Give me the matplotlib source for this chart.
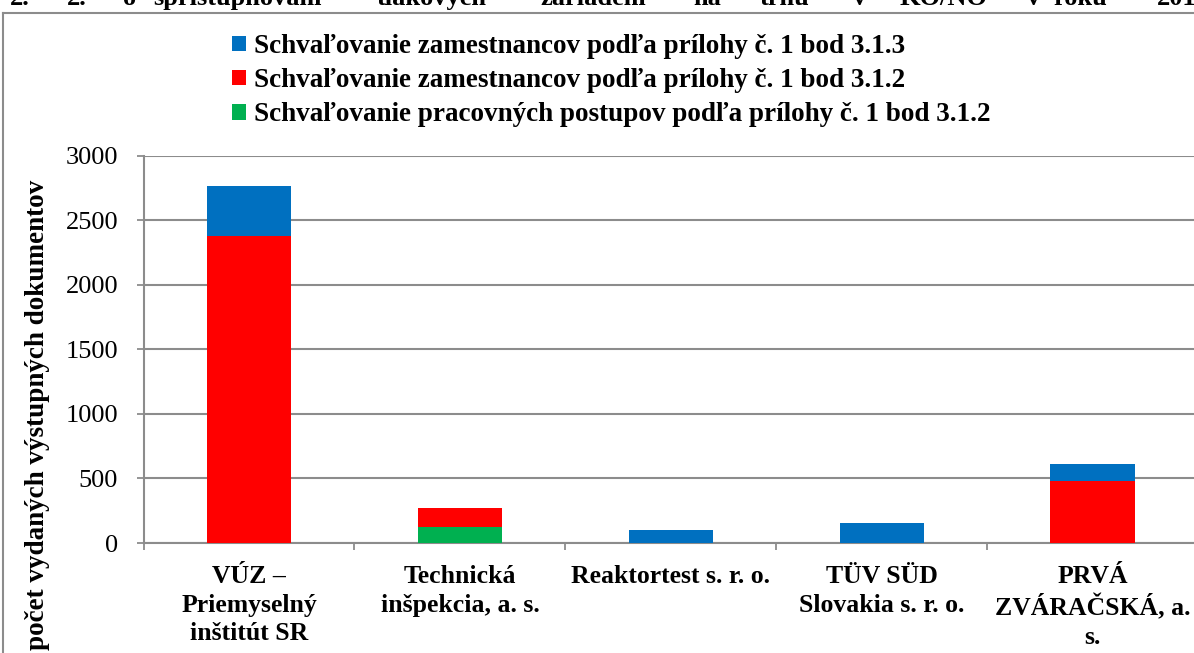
import matplotlib
matplotlib.use('Agg')
import matplotlib.pyplot as plt
import numpy as np
from matplotlib.lines import Line2D

plt.rcParams['font.family'] = ['Liberation Serif', 'DejaVu Serif']

# data
categories = ['VÚZ –\nPriemyselný\ninštitút SR',
              'Technická\ninšpekcia, a. s.',
              'Reaktortest s. r. o.',
              'TÜV SÜD\nSlovakia s. r. o.',
              'PRVÁ\nZVÁRAČSKÁ, a.\ns.']
postupy_312 = [0, 125, 0, 0, 0]
zamestnanci_312 = [2380, 145, 0, 0, 484]
zamestnanci_313 = [385, 0, 100, 155, 126]

labels = ['Schvaľovanie zamestnancov podľa prílohy č. 1 bod 3.1.3',
          'Schvaľovanie zamestnancov podľa prílohy č. 1 bod 3.1.2',
          'Schvaľovanie pracovných postupov podľa prílohy č. 1 bod 3.1.2']
colors = ['#0070C0', '#FF0000', '#00B050']

# clipped caption above the chart (only its lower part is visible)
title_words = ['2.', '2.', 'o', 'sprístupňovaní', 'tlakových', 'zariadení', 'na',
               'trhu', 'v', 'KO/NO', 'v', 'roku', '2014']
title_x = [10, 67, 123, 153, 377, 540, 693, 760, 853, 900, 1027, 1053, 1157]

W, H = 1194, 653
fig = plt.figure(figsize=(W / 100, H / 100), dpi=100)
ax = fig.add_axes([143.6 / W, (H - 543) / H, (1198 - 143.6) / W, (543 - 155.7) / H])

x = np.arange(len(categories))
b0 = np.array(postupy_312)
b1 = b0 + np.array(zamestnanci_312)
ax.bar(x, postupy_312, 0.4, color=colors[2], label=labels[2], zorder=3)
ax.bar(x, zamestnanci_312, 0.4, bottom=b0, color=colors[1], label=labels[1], zorder=3)
ax.bar(x, zamestnanci_313, 0.4, bottom=b1, color=colors[0], label=labels[0], zorder=3)

ax.set_xlim(-0.5, len(categories) - 0.5)
ax.set_ylim(0, 3000)
ax.set_yticks(np.arange(0, 3001, 500))
ax.grid(axis='y', color='#8c8c8c', linewidth=1.5, zorder=0)
ax.tick_params(axis='y', labelsize=19, length=4.8, width=1.3, color='#8c8c8c', pad=13.5)

ax.set_xticks(x)
ax.set_xticklabels(categories, fontsize=18.5, fontweight='bold', linespacing=1.3)
ax.tick_params(axis='x', length=0, pad=16)
ax.set_xticks(np.arange(-0.5, len(categories)), minor=True)
ax.tick_params(axis='x', which='minor', length=5, width=1.3, color='#8c8c8c')

for s in ['top', 'right']:
    ax.spines[s].set_visible(False)
for s in ['left', 'bottom']:
    ax.spines[s].set_color('#8c8c8c')
    ax.spines[s].set_linewidth(1.5)

fig.text(38 / W, 1 - 415 / H, 'počet vydaných výstupných dokumentov', rotation=90,
         ha='center', va='center', fontsize=19.5, fontweight='bold')

handles, lab = ax.get_legend_handles_labels()
ax.legend(handles[::-1], lab[::-1], loc='upper left', bbox_to_anchor=(232 / W, 1 - 34 / H),
          bbox_transform=fig.transFigure, frameon=False,
          prop={'weight': 'bold', 'size': 19.5}, handlelength=0.5, handleheight=0.5,
          handletextpad=0.3, labelspacing=0.34, borderaxespad=0, borderpad=0)

# outer chart frame
fig.add_artist(Line2D([3 / W, 3 / W], [-0.01, 1 - 13 / H], color='#8c8c8c', lw=1.5))
fig.add_artist(Line2D([3 / W, 1.01], [1 - 13 / H, 1 - 13 / H], color='#8c8c8c', lw=1.5))

for w, px in zip(title_words, title_x):
    fig.text(px / W, 1 - 5 / H, w, ha='left', va='baseline', fontsize=19, fontweight='bold')

fig.savefig('out.png', dpi=100)
